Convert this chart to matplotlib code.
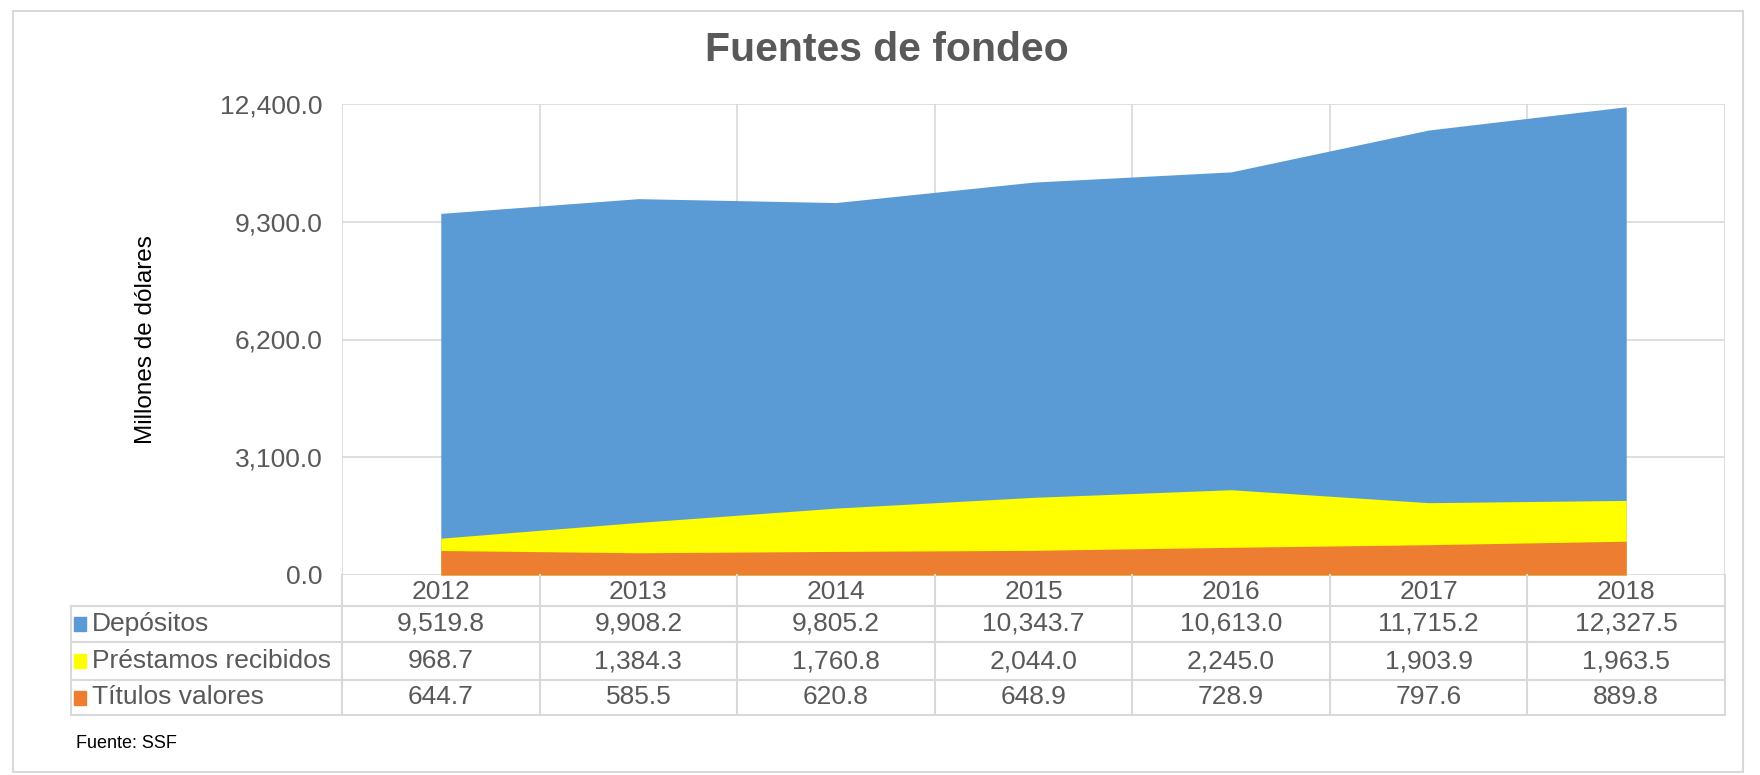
import matplotlib.pyplot as plt
import matplotlib.transforms as mtransforms
from matplotlib.patches import Rectangle

years = ['2012', '2013', '2014', '2015', '2016', '2017', '2018']
depositos = [9519.8, 9908.2, 9805.2, 10343.7, 10613.0, 11715.2, 12327.5]
prestamos = [968.7, 1384.3, 1760.8, 2044.0, 2245.0, 1903.9, 1963.5]
titulos = [644.7, 585.5, 620.8, 648.9, 728.9, 797.6, 889.8]
series_names = ['Depósitos', 'Préstamos recibidos', 'Títulos valores']
series_colors = ['#5B9BD5', '#FFFF00', '#ED7D31']
yticks = [0, 3100, 6200, 9300, 12400]

plt.rcParams['font.family'] = ['Liberation Sans', 'DejaVu Sans']
txt = '#595959'
grid = '#D9D9D9'
fs = 19

W, H = 1760, 775
fig = plt.figure(figsize=(W / 100, H / 100), dpi=100)
fig.add_artist(Rectangle((13 / W, 1 - 772 / H), (1743 - 13) / W, (772 - 11) / H,
                         transform=fig.transFigure, fill=False, ec=grid, lw=1.5))

left, right, top, bottom = 342, 1725, 104, 575
ax = fig.add_axes([left / W, 1 - bottom / H, (right - left) / W, (bottom - top) / H])

x = range(len(years))
for vals, c in zip([depositos, prestamos, titulos], series_colors):
    ax.fill_between(x, 0, vals, color=c, lw=0, zorder=2)

ax.set_xlim(-0.5, len(years) - 0.5)
ax.set_ylim(0, 12400)
ax.set_yticks(yticks)
ax.set_yticklabels([f'{v:,.1f}' for v in yticks], color=txt, fontsize=fs)
ax.tick_params(axis='y', length=0, pad=14)
ax.set_xticks([])
for v in yticks:
    ax.axhline(v, color=grid, lw=1.2, zorder=1)
for k in range(len(years) + 1):
    ax.axvline(k - 0.5, color=grid, lw=1.2, zorder=1)
for s in ax.spines.values():
    s.set_visible(False)
ax.set_ylabel('Millones de dólares', fontsize=17.5, color='black')
ax.yaxis.set_label_coords((157 - left) / (right - left), 0.5)

fig.text(887 / W, 1 - 50 / H, 'Fuentes de fondeo', ha='center', va='center',
         fontsize=29.5, fontweight='bold', color=txt)

# data table under the plot
ah = bottom - top
def ay(px):
    return (bottom - px) / ah
row_lines = [606, 642, 680, 715]
tab_left = (71 - left) / (right - left)
blend = mtransforms.blended_transform_factory(ax.transData, ax.transAxes)

for yl in row_lines:
    ax.plot([tab_left, 1], [ay(yl)] * 2, transform=ax.transAxes, color=grid,
            lw=1.5, clip_on=False)
ax.plot([tab_left, tab_left], [ay(606), ay(715)], transform=ax.transAxes,
        color=grid, lw=1.5, clip_on=False)
for k in range(len(years) + 1):
    ax.plot([k - 0.5, k - 0.5], [0, ay(715)], transform=blend, color=grid,
            lw=1.5, clip_on=False)

for i, yr in enumerate(years):
    ax.text(i, ay(592), yr, transform=blend, ha='center',
            va='center', fontsize=fs, color=txt)

rows = [depositos, prestamos, titulos]
for r, (name, c, vals) in enumerate(zip(series_names, series_colors, rows)):
    yc = ay((row_lines[r] + row_lines[r + 1]) / 2)
    for i, v in enumerate(vals):
        ax.text(i, yc, f'{v:,.1f}', transform=blend, ha='center', va='center',
                fontsize=fs, color=txt)
    ax.add_patch(Rectangle(((74 - left) / (right - left), yc - 7 / ah),
                           12 / (right - left), 14 / ah, transform=ax.transAxes,
                           color=c, clip_on=False))
    ax.text((92 - left) / (right - left), yc, name, transform=ax.transAxes,
            ha='left', va='center', fontsize=fs, color=txt)

fig.text(76 / W, 1 - 743 / H, 'Fuente: SSF', fontsize=13, color='black',
         va='center', ha='left')

fig.savefig('out.png', dpi=100)
